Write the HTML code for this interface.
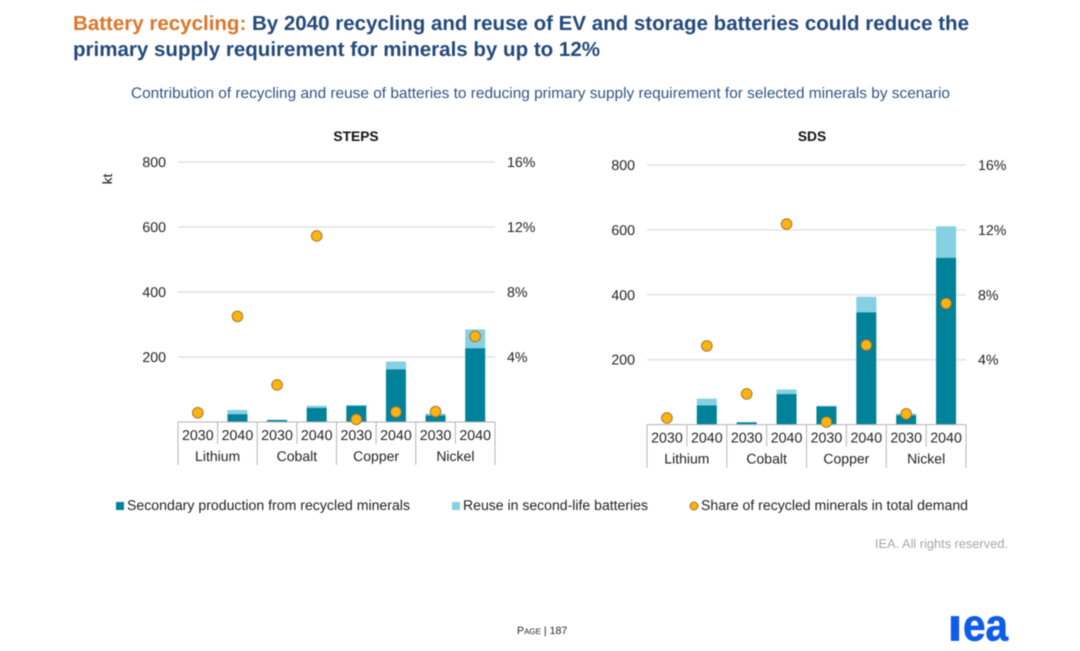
<!DOCTYPE html>
<html lang="en">
<head>
<meta charset="utf-8">
<title>Battery recycling</title>
<style>
html,body{margin:0;padding:0;background:#fff;}
body{width:1080px;height:651px;overflow:hidden;}
svg{display:block;font-family:"Liberation Sans",Arial,sans-serif;filter:blur(0.45px);text-rendering:geometricPrecision;}
</style>
</head>
<body>
<svg id="page" width="1080" height="651" viewBox="0 0 1080 651" xmlns="http://www.w3.org/2000/svg">
  <text x="73" y="30" font-size="20.4" font-weight="700" fill="#23497b" textLength="896" lengthAdjust="spacingAndGlyphs"><tspan fill="#dc7628">Battery recycling:</tspan> By 2040 recycling and reuse of EV and storage batteries could reduce the</text>
  <text x="73" y="56" font-size="20.4" font-weight="700" fill="#23497b" textLength="527" lengthAdjust="spacingAndGlyphs">primary supply requirement for minerals by up to 12%</text>
  <text x="131" y="98" font-size="15.2" fill="#2f5585" textLength="819" lengthAdjust="spacingAndGlyphs">Contribution of recycling and reuse of batteries to reducing primary supply requirement for selected minerals by scenario</text>
  <text transform="translate(112,179) rotate(-90)" text-anchor="middle" font-size="13.5" fill="#111">kt</text>
  <g id="steps"></g>
  <g id="sds"></g>

  <g>
    <g>
      <rect x="116" y="502" width="8" height="8" fill="#00829b"></rect>
      <text x="127" y="510" font-size="14.2" fill="#222" textLength="283" lengthAdjust="spacingAndGlyphs">Secondary production from recycled minerals</text>
    </g>
    <g>
      <rect x="452" y="502" width="8" height="8" fill="#85d0e2"></rect>
      <text x="463" y="510" font-size="14.2" fill="#222" textLength="185" lengthAdjust="spacingAndGlyphs">Reuse in second-life batteries</text>
    </g>
    <g>
      <circle cx="694" cy="506" r="4" fill="#f9b115" stroke="#a5762a" stroke-width="1"></circle>
      <text x="701" y="510" font-size="14.2" fill="#222" textLength="267" lengthAdjust="spacingAndGlyphs">Share of recycled minerals in total demand</text>
    </g>
  </g>

  <text x="1008" y="548" text-anchor="end" font-size="12.8" fill="#a6a6a6">IEA. All rights reserved.</text>
  <text x="517" y="634" font-size="10.6" fill="#222">P<tspan font-size="8">AGE</tspan> | 187</text>
  <g fill="#0f5ce8" stroke="#0f5ce8" stroke-width="0.7">
    <text x="948" y="640.5" font-size="35" font-weight="700" textLength="14" lengthAdjust="spacingAndGlyphs">I</text>
    <text x="963" y="640.5" font-size="45" font-weight="700" textLength="45" lengthAdjust="spacingAndGlyphs">ea</text>
  </g>
</svg>
<script>
var categories = ['Lithium', 'Cobalt', 'Copper', 'Nickel'];
var years = ['2030', '2040'];
var leftTicks = [200, 400, 600, 800];
var rightTicks = [4, 8, 12, 16];

var stepsSecondary = [1, 24, 6, 43, 50, 162, 20, 227];
var stepsReuse = [0, 13, 1, 7, 2, 24, 6, 58];
var stepsShare = [0.57, 6.5, 2.28, 11.45, 0.16, 0.62, 0.64, 5.27];

var sdsSecondary = [1, 59, 7, 94, 56, 346, 29, 514];
var sdsReuse = [0, 21, 1, 14, 2, 48, 5, 97];
var sdsShare = [0.41, 4.85, 1.89, 12.36, 0.16, 4.9, 0.66, 7.47];

var NS = 'http://www.w3.org/2000/svg';

function make(parent, tag, attrs, text) {
  var el = document.createElementNS(NS, tag);
  for (var k in attrs) { el.setAttribute(k, attrs[k]); }
  if (text !== undefined) { el.textContent = text; }
  parent.appendChild(el);
  return el;
}

function drawPanel(rootId, title, frame, secondary, reuse, share) {
  var root = document.getElementById(rootId);
  var maxLeft = leftTicks[leftTicks.length - 1];
  var maxRight = rightTicks[rightTicks.length - 1];
  var slots = categories.length * years.length;
  var slotW = (frame.right - frame.left) / slots;
  function yLeft(v) { return frame.base - v / maxLeft * (frame.base - frame.top); }
  function yRight(v) { return frame.base - v / maxRight * (frame.base - frame.top); }
  function xMid(i) { return frame.left + slotW * (i + 0.5); }

  var head = make(root, 'text', {x: frame.titleX, y: frame.titleY, 'text-anchor': 'middle', 'font-size': 13.8, 'font-weight': 700, fill: '#111'}, title);
  
  

  leftTicks.forEach(function (t, i) {
    var y = yLeft(t);
    var grid = make(root, 'line', {x1: frame.left, x2: frame.right, y1: y, y2: y, stroke: '#e2e2e2', 'stroke-width': 1.4});
    
    
    var lab = make(root, 'text', {x: frame.left - 12, y: y + 5, 'text-anchor': 'end', 'font-size': 14.2, fill: '#222'}, String(t));
    
    
    var rlab = make(root, 'text', {x: frame.right + 12, y: y + 5, 'font-size': 14.2, fill: '#222'}, rightTicks[i] + '%');
    
    
  });

  secondary.forEach(function (v, i) {
    var cx = xMid(i);
    var yA = yLeft(v);
    var yB = yLeft(v + reuse[i]);
    var light = make(root, 'rect', {x: cx - 10, y: yB, width: 20, height: yA - yB, fill: '#85d0e2'});
    
    
    var dark = make(root, 'rect', {x: cx - 10, y: yA, width: 20, height: frame.base - yA, fill: '#00829b'});
    
    
  });

  var axis = make(root, 'line', {x1: frame.left, x2: frame.right, y1: frame.base, y2: frame.base, stroke: '#b5b5b5', 'stroke-width': 1});
  
  

  for (var s = 0; s <= slots; s++) {
    var isGroup = s % years.length === 0;
    var sx = frame.left + slotW * s;
    var tick = make(root, 'line', {x1: sx, x2: sx, y1: frame.base, y2: frame.base + (isGroup ? 43 : 22), stroke: '#b5b5b5', 'stroke-width': 1});
    
    
  }

  secondary.forEach(function (v, i) {
    var yl = make(root, 'text', {x: xMid(i), y: frame.base + 18, 'text-anchor': 'middle', 'font-size': 14.2, fill: '#222'}, years[i % years.length]);
    
    
  });

  categories.forEach(function (c, i) {
    var cl = make(root, 'text', {x: frame.left + slotW * years.length * (i + 0.5), y: frame.base + 39, 'text-anchor': 'middle', 'font-size': 14, fill: '#222'}, c);
    
    
  });

  share.forEach(function (v, i) {
    var pt = make(root, 'circle', {cx: xMid(i), cy: yRight(v), r: 5.3, fill: '#fbb414', stroke: '#a5762a', 'stroke-width': 1});
    
    
  });
}

drawPanel('steps', 'STEPS', {left: 178, right: 495, top: 162, base: 422, titleX: 356, titleY: 141}, stepsSecondary, stepsReuse, stepsShare);
drawPanel('sds', 'SDS', {left: 647, right: 966, top: 165, base: 424.6, titleX: 812, titleY: 141}, sdsSecondary, sdsReuse, sdsShare);
</script>
</body>
</html>
